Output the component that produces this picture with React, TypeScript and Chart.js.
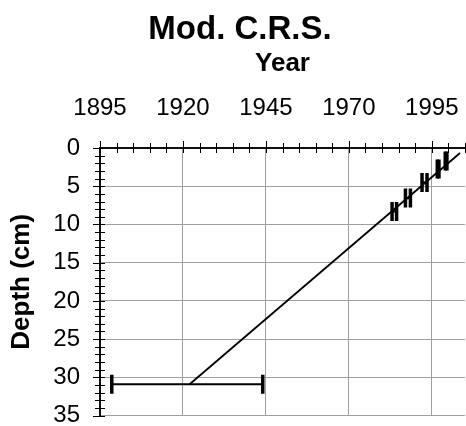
import React, { useEffect, useRef } from "react";
import { Chart, registerables } from "chart.js";

Chart.register(...registerables);

const TITLE = "Mod. C.R.S.";
const X_TITLE = "Year";
const Y_TITLE = "Depth (cm)";

const X_MIN = 1895;
const X_MAX = 2005;
const Y_MIN = 0;
const Y_MAX = 35;
const X_TICKS = [1895, 1920, 1945, 1970, 1995];
const Y_TICKS = [0, 5, 10, 15, 20, 25, 30, 35];
const X_MINOR_STEP = 5;
const Y_MINOR_STEP = 1;

// dated samples: year, depth, year uncertainty (±)
const SAMPLE_YEARS = [1921.3, 1983.7, 1987.8, 1992.8, 1996.9, 1999.3];
const SAMPLE_DEPTHS = [30.9, 8.3, 6.55, 4.5, 2.75, 1.7];
const SAMPLE_YEAR_ERR = [22.75, 0.68, 0.75, 0.75, 0.25, 0.25];

// model (C.R.S.) age–depth line
const MODEL_YEARS = [1922.0, 2003.5];
const MODEL_DEPTHS = [30.9, 0.66];

const FONT = "'Liberation Sans', Arial, Helvetica, sans-serif";

const minorTicksPlugin = {
  id: "minorTicks",
  afterDraw(chart: any) {
    const { ctx, chartArea, scales } = chart;
    const xs = scales.x;
    const ys = scales.y;
    ctx.save();
    ctx.strokeStyle = "#000";
    ctx.lineWidth = 1;
    ctx.beginPath();
    for (let v = X_MIN; v <= X_MAX + 1e-6; v += X_MINOR_STEP) {
      const px = Math.round(xs.getPixelForValue(v)) + 0.5;
      const major = X_TICKS.includes(v);
      ctx.moveTo(px, chartArea.top - (major ? 7 : 5));
      ctx.lineTo(px, chartArea.top + 5);
    }
    for (let v = Y_MIN; v <= Y_MAX + 1e-6; v += Y_MINOR_STEP) {
      const py = Math.round(ys.getPixelForValue(v)) + 0.5;
      const major = Y_TICKS.includes(v);
      ctx.moveTo(chartArea.left - (major ? 7 : 5), py);
      ctx.lineTo(chartArea.left + 5, py);
    }
    ctx.stroke();
    ctx.restore();
  },
};

export default function App() {
  const ref = useRef<HTMLCanvasElement | null>(null);

  useEffect(() => {
    if (!ref.current) return;
    Chart.defaults.font.family = FONT;
    Chart.defaults.color = "#000";

    const barData: any[] = [];
    const capData: any[] = [];
    SAMPLE_YEARS.forEach((yr, i) => {
      const d = SAMPLE_DEPTHS[i];
      const e = SAMPLE_YEAR_ERR[i];
      barData.push({ x: yr - e, y: d }, { x: yr + e, y: d }, { x: null, y: null });
      capData.push({ x: yr - e, y: d }, { x: yr + e, y: d });
    });
    const modelData = MODEL_YEARS.map((yr, i) => ({ x: yr, y: MODEL_DEPTHS[i] }));

    const chart = new Chart(ref.current, {
      type: "scatter",
      data: {
        datasets: [
          {
            data: modelData,
            showLine: true,
            borderColor: "#000",
            borderWidth: 1.8,
            pointRadius: 0,
          },
          {
            data: barData,
            showLine: true,
            spanGaps: false,
            borderColor: "#000",
            borderWidth: 2.2,
            pointRadius: 0,
          },
          {
            data: capData,
            showLine: false,
            pointStyle: "line",
            pointRotation: 90,
            pointRadius: 9.5,
            pointBorderWidth: 3.5,
            pointBorderColor: "#000",
            pointBackgroundColor: "#000",
          },
        ],
      } as any,
      options: {
        responsive: false,
        animation: false,
        devicePixelRatio: 1,
        events: [],
        layout: { autoPadding: false, padding: { left: 15, right: 1, top: 0, bottom: 10.4 } },
        plugins: {
          legend: { display: false },
          tooltip: { enabled: false },
          title: {
            display: true,
            text: TITLE,
            color: "#000",
            font: { size: 33, weight: "bold", lineHeight: 1.2, family: FONT },
            padding: { top: 10, bottom: 0 },
          },
        },
        scales: {
          x: {
            type: "linear",
            position: "top",
            min: X_MIN,
            max: X_MAX,
            afterBuildTicks: (s: any) => {
              s.ticks = X_TICKS.map((v) => ({ value: v }));
            },
            afterFit: (s: any) => {
              s.height = 148 - 49.6;
              s.paddingLeft = 0;
              s.paddingRight = 0;
              s.paddingTop = 0;
              s.paddingBottom = 0;
            },
            grid: {
              drawTicks: false,
              color: (c: any) => (c.tick && c.tick.value === X_MIN ? "rgba(0,0,0,0)" : "#a0a0a0"),
              lineWidth: 1,
            },
            border: { display: true, color: "#111", width: 2 },
            ticks: {
              padding: 25,
              color: "#000",
              font: { size: 24, lineHeight: 1.2, family: FONT },
              maxRotation: 0,
              autoSkip: false,
              callback: (v: any) => String(v),
            },
            title: {
              display: true,
              text: X_TITLE,
              color: "#000",
              font: { size: 26, weight: "bold", lineHeight: 1, family: FONT },
              padding: { top: 1, bottom: 0 },
            },
          },
          y: {
            type: "linear",
            position: "left",
            reverse: true,
            min: Y_MIN,
            max: Y_MAX,
            afterBuildTicks: (s: any) => {
              s.ticks = Y_TICKS.map((v) => ({ value: v }));
            },
            afterFit: (s: any) => {
              s.width = 85;
              s.paddingLeft = 0;
              s.paddingRight = 0;
              s.paddingTop = 0;
              s.paddingBottom = 0;
            },
            grid: {
              drawTicks: false,
              color: (c: any) => (c.tick && c.tick.value === Y_MIN ? "rgba(0,0,0,0)" : "#a0a0a0"),
              lineWidth: 1,
            },
            border: { display: true, color: "#111", width: 2 },
            ticks: {
              padding: 20,
              color: "#000",
              font: { size: 24, lineHeight: 1.2, family: FONT },
              autoSkip: false,
              callback: (v: any) => String(v),
            },
            title: {
              display: true,
              text: Y_TITLE,
              color: "#000",
              font: { size: 26, weight: "bold", lineHeight: 0.5, family: FONT },
              padding: { top: 0, bottom: 0 },
            },
          },
        },
      } as any,
      plugins: [minorTicksPlugin],
    });

    return () => chart.destroy();
  }, []);

  return (
    <div style={{ position: "fixed", left: 0, top: 0, width: 466, height: 426, background: "#fff" }}>
      <canvas ref={ref} width={466} height={426} style={{ display: "block" }} />
    </div>
  );
}
